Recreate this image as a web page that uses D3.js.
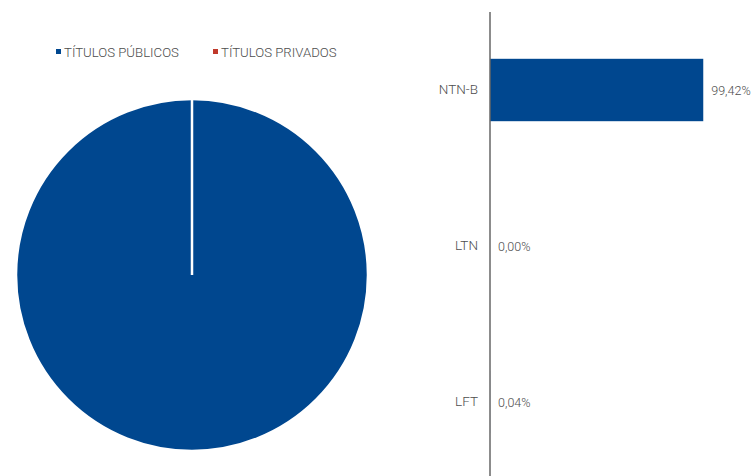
<!DOCTYPE html>
<html><head><meta charset="utf-8">
<script src="https://cdn.jsdelivr.net/npm/d3@7"></script>
<style>body{margin:0;background:#fff}svg{display:block;font-family:Roboto,"Open Sans",sans-serif;font-weight:300}</style>
</head><body>
<svg id="c" width="753" height="476"></svg>
<script>
const pieLabels = ["TÍTULOS PÚBLICOS", "TÍTULOS PRIVADOS"];
const pieValues = [100, 0];
const pieColors = ["#00478f", "#c0392b"];
const barCategories = ["NTN-B", "LTN", "LFT"];
const barValues = [99.42, 0.00, 0.04];
const barLabels = ["99,42%", "0,00%", "0,04%"];

const svg = d3.select("#c");
const textColor = "#4d4d4d";

// Pie
const pie = d3.pie().sort(null).value(d => d)(pieValues);
const arc = d3.arc().innerRadius(0).outerRadius(176);
const g = svg.append("g").attr("transform", "translate(192,275)");
g.selectAll("path").data(pie).join("path")
  .attr("d", arc)
  .attr("fill", (d, i) => pieColors[i])
  .attr("stroke", "#fff").attr("stroke-width", 2.5);

// Legend
const legX = [56, 213];
const leg = svg.append("g");
pieLabels.forEach((l, i) => {
  leg.append("rect").attr("x", legX[i]).attr("y", 49).attr("width", 5).attr("height", 5).attr("fill", pieColors[i]);
  leg.append("text").attr("x", legX[i] + 8).attr("y", 56.5).attr("font-size", 13.2).attr("fill", textColor).text(l);
});

// Bars
const x = d3.scaleLinear().domain([0, 100]).range([490, 704.5]);
const y = d3.scaleBand().domain(barCategories).range([12, 480]).paddingInner(0.6).paddingOuter(0.3);
const bg = svg.append("g");
bg.selectAll("rect").data(barValues).join("rect")
  .attr("x", x(0)).attr("y", (d, i) => y(barCategories[i]))
  .attr("width", d => x(d) - x(0)).attr("height", y.bandwidth())
  .attr("fill", pieColors[0]);
bg.selectAll("text.v").data(barValues).join("text").attr("class", "v")
  .attr("x", d => x(d) + 8)
  .attr("y", (d, i) => y(barCategories[i]) + y.bandwidth() / 2 + 4.5)
  .attr("font-size", 12.5).attr("fill", textColor)
  .text((d, i) => barLabels[i]);
const yAxis = d3.axisLeft(y).tickSize(0).tickPadding(12);
const ax = svg.append("g").attr("transform", `translate(${x(0)},0)`).call(yAxis);
ax.select(".domain").attr("stroke", "#666").attr("stroke-width", 1.5).attr("d", "M0,12V476");
ax.selectAll("text").attr("font-size", 13.5).attr("fill", textColor).attr("font-family", "Roboto,sans-serif").attr("font-weight", 300);
</script>
</body></html>
